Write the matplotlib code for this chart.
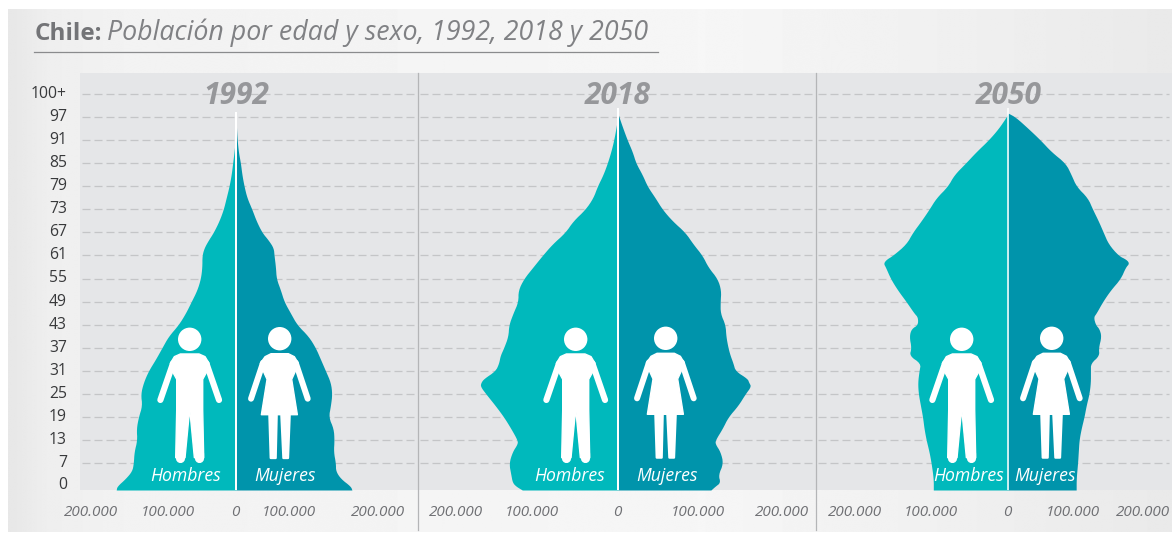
import numpy as np
import matplotlib
matplotlib.use("Agg")
import matplotlib.pyplot as plt
from matplotlib.patches import Circle, Polygon
from matplotlib.lines import Line2D
from matplotlib.transforms import ScaledTranslation

# ---------- data (thousands of people) ----------
years = ["1992", "2018", "2050"]
ages_1992 = [0,1,3,5,7,10,13,16,19,22,25,28,31,34,37,40,43,46,49,52,55,58,61,63,65,67,70,73,76,79,82,85,88,91,94,97]
hombres_1992 = [168,167,155,146,144,143,139,140,137,132,134,130,123,113,104,95,81,71,63,55,50,48,48,45,39,32,24,18,14,10,7,5,3,1.4,.4,.1]
mujeres_1992 = [162,160,146,139,139,136,137,136,129,132,134,132,125,118,111,101,85,76,67,62,56,55,53,52,45,36,28,22,15,11,8,6,3,1.4,.4,.1]
ages_2018 = [0,1,2,4,7,10,12,13,16,19,22,25,27,28,29,31,33,35,37,40,43,46,49,52,55,58,61,64,67,70,73,76,79,82,85,88,91,94,97,98]
hombres_2018 = [134,143,148,150,153,148,141,141,150,160,172,185,193,192,188,172,167,165,160,154,153,147,140,140,132,119,106,92,74,63,46,35,29,21,15,10,6,3,.4,0]
mujeres_2018 = [130,136,143,140,147,143,136,136,146,154,168,178,186,183,181,164,161,157,154,151,150,143,143,144,139,126,118,105,94,76,62,52,41,34,25,20,13,7,1.4,0]
ages_2050 = [0,3,7,10,13,16,19,22,25,28,31,33,35,37,40,42,43,45,46,49,52,55,58,59,60,61,64,67,70,73,76,79,82,85,88,91,94,97,98]
hombres_2050 = [105,105,108,111,115,118,120,123,126,127,125,123,139,136,139,136,127,127,132,143,155,165,172,175,171,162,143,134,122,111,101,85,76,60,45,28,14,3,0]
mujeres_2050 = [95,95,97,98,99,102,106,109,113,115,115,115,127,126,130,127,122,119,123,132,143,157,164,169,165,154,140,133,126,118,111,95,88,80,60,45,28,10,0]
age_labels = ["0","7","13","19","25","31","37","43","49","55","61","67","73","79","85","91","97","100+"]
grid_ages = [7,13,19,25,31,37,43,49,55,61,67,73,79,85,91,97,103]
x_labels = ["200.000","100.000","0","100.000","200.000"]

# ---------- layout (pixels of the 1172x533 figure) ----------
W, H = 1172, 533
Y_BASE, Y_TOP, PX_PER_YEAR = 490, 73, 3.845
K_PER_PX = 1.4
panels = [(80, 418, 236.2, 98.3, 1.45), (418, 816, 618.0, 99.3, 1.45), (816, 1172, 1008.3, 99.3, 1.1)]
xlabel_px = [[90.8,168,235.7,289,378], [455.8,531.7,617.7,697.5,781.7], [854.7,931.3,1007,1073,1143.5]]
man_px = [(189.7,339.3), (575.7,339.3), (961.7,339.3)]
woman_px = [(279.7,338.7), (665.7,338.3), (1051.7,338.3)]
hombres_x = [186, 569.7, 968.7]
mujeres_x = [284.7, 666.7, 1044.7]
C_H, C_M = "#00b9bc", "#0094ab"
BAND = "#e5e6e8"
plt.rcParams["font.family"] = ["Open Sans", "DejaVu Sans"]

fig = plt.figure(figsize=(W/100, H/100), dpi=100, facecolor="white")

# background with the soft horizontal gradient
bg = fig.add_axes([0, 0, 1, 1], zorder=0)
grad = np.interp(np.arange(W), [8, 40, 120, 700, 1000, 1172], [0.91, 0.935, 0.95, 0.965, 0.935, 0.915])
bg.imshow(np.tile(grad, (2, 1)), cmap="gray", vmin=0, vmax=1, aspect="auto",
          extent=(8, W, 532, 9), interpolation="bilinear")
bg.set_xlim(0, W); bg.set_ylim(H, 0); bg.axis("off")


def outline(ages, vals, rounds=2):
    """Round the corners of the drawn outline; the ends stay where they are."""
    p = np.column_stack([ages, vals]).astype(float)
    for _ in range(rounds):
        q = 0.75*p[:-1] + 0.25*p[1:]
        r = 0.25*p[:-1] + 0.75*p[1:]
        mid = np.empty((2*len(q), 2))
        mid[0::2], mid[1::2] = q, r
        p = np.vstack([p[:1], mid, p[-1:]])
    return p[:, 0], p[:, 1]


series = [(ages_1992, hombres_1992, mujeres_1992),
          (ages_2018, hombres_2018, mujeres_2018),
          (ages_2050, hombres_2050, mujeres_2050)]

for i, ((x0, x1, cx, top_age, wl), (ages, hom, muj)) in enumerate(zip(panels, series)):
    ax = fig.add_axes([x0/W, 1-Y_BASE/H, (x1-x0)/W, (Y_BASE-Y_TOP)/H], zorder=1)
    ax.set_facecolor(BAND)
    to_data = lambda px: (px-cx)*K_PER_PX
    ax.set_xlim(to_data(x0), to_data(x1))
    ax.set_ylim(0, (Y_BASE-Y_TOP)/PX_PER_YEAR)
    for s in ax.spines.values():
        s.set_visible(False)
    ax.hlines(grid_ages, to_data(x0+2), to_data(x1-3), color="#c4c5c7", lw=0.9,
              linestyles=(0, (6.4, 3.2)), zorder=1)
    ya, xa = outline(ages, hom)
    ax.fill_betweenx(ya, 0, -xa, color=C_H, lw=0, zorder=2)
    ya, xa = outline(ages, muj)
    ax.fill_betweenx(ya, 0, xa, color=C_M, lw=0, zorder=2)
    ax.vlines(0, 0, top_age, color="white", lw=wl, zorder=3)
    ax.set_xticks([to_data(p) for p in xlabel_px[i]], x_labels, fontsize=11, style="italic", color="#6f7074")
    ax.tick_params(axis="x", length=0, pad=11)
    if i == 0:
        # the lowest label sits just above the base line in the original
        ax.set_yticks([1.4] + grid_ages, age_labels, fontsize=11.3, color="#38393b")
        ax.tick_params(axis="y", length=0, pad=9.5)
        up = ScaledTranslation(0, 1.5/72, fig.dpi_scale_trans)
        for lab in ax.get_yticklabels():
            lab.set_transform(lab.get_transform() + up)
    else:
        ax.set_yticks([])
    ax.text(0, grid_ages[-1]-0.4, years[i], ha="center", va="center", fontsize=21.5,
            style="italic", fontweight="bold", color="#96979a", zorder=4)

# overlay in pixel coordinates: title, separators, pictograms, labels
ov = fig.add_axes([0, 0, 1, 1], zorder=5)
ov.set_xlim(0, W); ov.set_ylim(H, 0); ov.axis("off"); ov.patch.set_alpha(0)

for xs in (418, 816):
    ov.add_line(Line2D([xs, xs], [Y_TOP, 530], color="#b4b5b7", lw=0.9))
ov.add_line(Line2D([34, 658], [52, 52], color="#8a8b8d", lw=0.9))

ov.text(35, 40, "Chile:", fontsize=17.5, fontweight="bold", color="#737477", va="baseline")
ov.text(107, 40, "Población por edad y sexo, 1992, 2018 y 2050", va="baseline", ha="left",
        fontsize=19.3, style="italic", color="#808184")


def limb(cx, cy, a, b, w):
    """Rounded stroke; a and b are offsets from the head centre in thirds of a pixel."""
    ov.add_line(Line2D([cx+a[0]/3, cx+b[0]/3], [cy+a[1]/3, cy+b[1]/3], color="white",
                       lw=w*0.72, solid_capstyle="round"))


def body(cx, cy, pts, lw=1.0):
    ov.add_patch(Polygon([(cx+x/3, cy+y/3) for x, y in pts], closed=True, fc="white",
                         ec="white", lw=lw, joinstyle="round"))


def man(cx, cy):
    ov.add_patch(Circle((cx, cy), 11.7, fc="white", ec="none"))
    body(cx, cy, [(-28,44),(28,44),(46,52),(58,72),(50,100),(39,120),(39,212),(42,355),(14,355),
                  (0,209),(-14,355),(-42,355),(-39,212),(-39,120),(-50,100),(-58,72),(-46,52)])
    limb(cx, cy, (-50,72), (-88,182), 6.2)
    limb(cx, cy, (50,72), (88,182), 6.2)
    limb(cx, cy, (-28,340), (-28,355), 9.2)
    limb(cx, cy, (28,340), (28,355), 9.2)


def woman(cx, cy):
    ov.add_patch(Circle((cx, cy), 11.7, fc="white", ec="none"))
    body(cx, cy, [(-26,45),(26,45),(44,54),(56,74),(46,100),(36,122),(53,228),(-55,228),(-38,122),
                  (-48,100),(-58,74),(-44,54)])
    limb(cx, cy, (-50,72), (-86,180), 6.0)
    limb(cx, cy, (48,72), (84,180), 6.0)
    body(cx, cy, [(-31,230),(-9,230),(-12,358),(-27,358)], lw=1.6)
    body(cx, cy, [(5,230),(30,230),(25,358),(11,358)], lw=1.6)


for i in range(3):
    man(*man_px[i])
    woman(*woman_px[i])
    ov.text(hombres_x[i], 476, "Hombres", color="white", fontsize=12.7, style="italic",
            ha="center", va="center")
    ov.text(mujeres_x[i], 476, "Mujeres", color="white", fontsize=12.7, style="italic",
            ha="center", va="center")

fig.savefig("out.png", dpi=100, facecolor="white")
